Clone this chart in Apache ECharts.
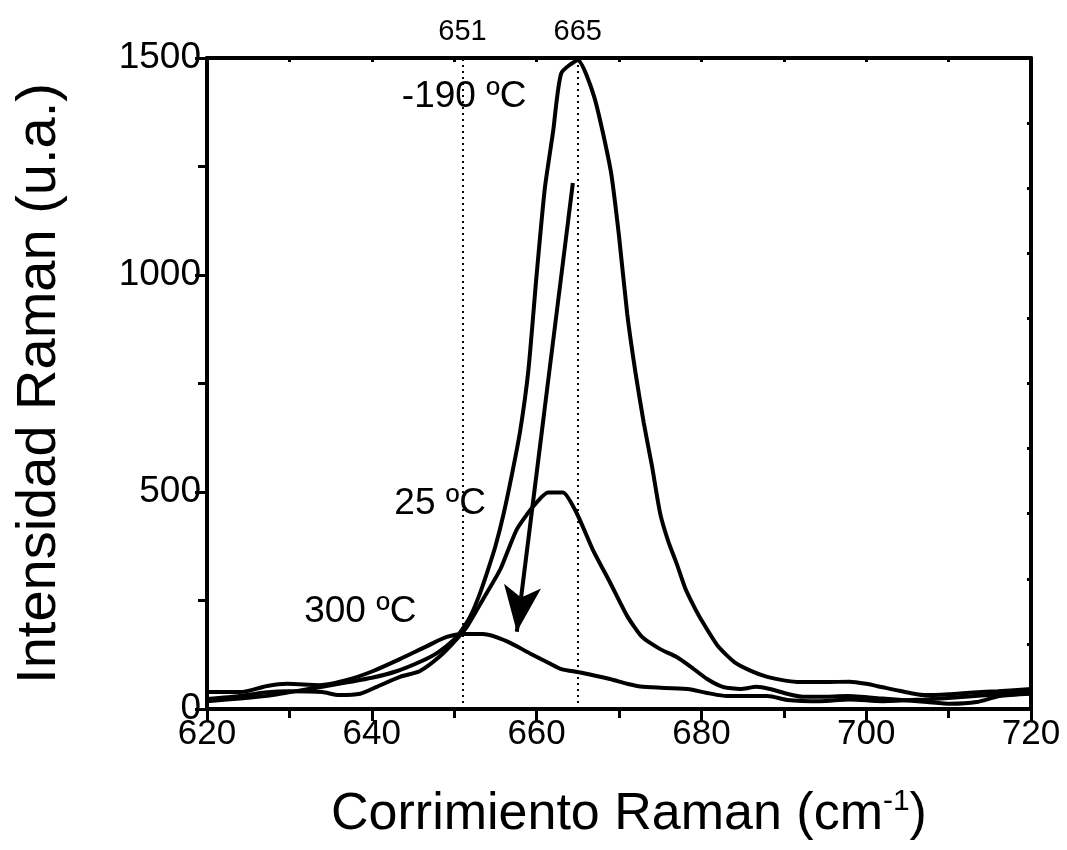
<!DOCTYPE html>
<html>
<head>
<meta charset="utf-8">
<script src="https://cdn.jsdelivr.net/npm/echarts@6/dist/echarts.min.js"></script>
<style>
html,body{margin:0;padding:0;background:#fff;}
#chart{width:1067px;height:850px;}
</style>
</head>
<body>
<div id="chart"></div>
<script>
// Raman shift (cm-1) and intensity (a.u.)
const xMinus190 = [620,624,628,632,636,640,643,646,648,650,651,652,653,654,655,656,657,658,659,660,661,662,663,665,667,669,670,671,672,673,674,675,676,677,678,679,680,682,684,686,688,690,692,695,698,700,702,704,707,710,713,716,720];
const yMinus190 = [18,24,32,45,58,72,87,110,130,160,184,215,260,315,375,450,540,640,780,1000,1200,1330,1465,1495,1410,1240,1090,910,775,660,560,450,385,335,280,240,205,145,108,88,74,66,62,62,63,58,50,42,32,34,38,41,46];

const x25 = [620,624,627,630,634,636,638.6,640.6,643.4,645.8,648.3,650.3,651.6,653.5,655.6,657.6,659.6,661.4,663.2,664.9,666.8,668.9,671,672.8,675,677,678.6,680.7,682.6,684.7,686.7,688.3,690.4,692.3,694.4,697.7,702,707.4,710.2,713.4,716.2,720];
const y25 = [23,30,38,41,39,32,35,51,74,87,122,161,191,253,322,414,467,499,499,450,368,292,214,166,138,120,99,69,51,46,51,46,35,28,28,30,24,16,12,16,30,35];

const x300 = [620,624,627.3,629.7,633.7,637,640.1,643.4,646.7,649.1,651.1,653.5,656.4,659.2,661.6,663,665.3,668.9,671,672.9,678.3,680.7,683.1,688,690.4,694.4,698,702,707,712,716,720];
const y300 = [39,39,53,58,55,67,87,115,145,166,173,173,156,128,105,92,84,69,58,51,46,37,30,30,21,18,22,18,22,28,34,40];

const peakLines = [651, 665];
const tempLabels = [
  {text: '-190 ºC', x: 651.2, y: 1410},
  {text: '25 ºC', x: 648.3, y: 472},
  {text: '300 ºC', x: 638.6, y: 225}
];
const arrowFrom = [664.4, 1212];
const arrowTo = [657.6, 178];

function pairs(xs, ys){ return xs.map((x,i)=>[x, ys[i]]); }

const FONT = 'Liberation Sans, Arial, sans-serif';
const chart = echarts.init(document.getElementById('chart'), null, {renderer:'canvas'});

const lineStyle = {color:'#000', width:4};

const option = {
  backgroundColor:'#fff',
  animation:false,
  grid:{left:207, right:36, top:58, bottom:140, containLabel:false},
  xAxis:[
    {
      type:'value', min:620, max:720, interval:20, position:'bottom',
      name:'Corrimiento Raman (cm{sup|-1})', nameLocation:'middle', nameGap:76,
      nameTextStyle:{fontFamily:FONT, fontSize:52, color:'#000', lineHeight:60, padding:[0,0,0,20],
        rich:{sup:{fontFamily:FONT, fontSize:30, color:'#000', padding:[0,0,26,0]}}},
      axisLine:{show:true, onZero:false, lineStyle:{color:'#000', width:4}},
      axisTick:{show:true, inside:false, length:12, lineStyle:{color:'#000', width:3}},
      minorTick:{show:true, splitNumber:2, length:9, lineStyle:{color:'#000', width:3}},
      axisLabel:{fontFamily:FONT, fontSize:35, color:'#000', margin:8},
      splitLine:{show:false}
    },
    {
      type:'value', min:620, max:720, interval:10, position:'top',
      axisLine:{show:true, onZero:false, lineStyle:{color:'#000', width:4}},
      axisTick:{show:true, inside:true, length:4, lineStyle:{color:'#000', width:3}},
      axisLabel:{show:false}, splitLine:{show:false}
    }
  ],
  yAxis:[
    {
      type:'value', min:0, max:1500, interval:500, position:'left',
      name:'Intensidad Raman (u.a.)', nameLocation:'middle', nameGap:139, nameRotate:90,
      nameTextStyle:{fontFamily:FONT, fontSize:56, color:'#000'},
      axisLine:{show:true, onZero:false, lineStyle:{color:'#000', width:4}},
      axisTick:{show:true, inside:false, length:12, lineStyle:{color:'#000', width:3}},
      minorTick:{show:true, splitNumber:2, length:9, lineStyle:{color:'#000', width:3}},
      axisLabel:{fontFamily:FONT, fontSize:37, color:'#000', margin:6, formatter:(v)=>String(v)},
      splitLine:{show:false}
    },
    {
      type:'value', min:0, max:1500, interval:150, position:'right',
      axisLine:{show:true, onZero:false, lineStyle:{color:'#000', width:4}},
      axisTick:{show:true, inside:true, length:4, lineStyle:{color:'#000', width:3}},
      axisLabel:{show:false}, splitLine:{show:false}
    }
  ],
  series:[
    {
      name:'-190 ºC', type:'line', xAxisIndex:0, yAxisIndex:0,
      data:pairs(xMinus190, yMinus190), showSymbol:false, smooth:0.2,
      lineStyle:lineStyle, itemStyle:{color:'#000'},
      markLine:{
        silent:true, symbol:['none','none'],
        lineStyle:{type:[2,4], color:'#000', width:2},
        label:{show:true, position:'end', formatter:'{c}', fontFamily:FONT, fontSize:29, color:'#000', distance:12},
        data:peakLines.map(v=>({xAxis:v}))
      },
      markPoint:{
        symbol:'circle', symbolSize:0, silent:true,
        label:{show:true, position:'inside', formatter:'{b}', fontFamily:FONT, fontSize:37, color:'#000'},
        data:tempLabels.map(t=>({name:t.text, coord:[t.x, t.y]}))
      }
    },
    {
      name:'25 ºC', type:'line', xAxisIndex:0, yAxisIndex:0,
      data:pairs(x25, y25), showSymbol:false, smooth:0.2,
      lineStyle:lineStyle, itemStyle:{color:'#000'}
    },
    {
      name:'300 ºC', type:'line', xAxisIndex:0, yAxisIndex:0,
      data:pairs(x300, y300), showSymbol:false, smooth:0.3,
      lineStyle:lineStyle, itemStyle:{color:'#000'},
      markLine:{
        silent:true, symbol:['none','arrow'], symbolSize:[28,46],
        lineStyle:{type:'solid', color:'#000', width:4},
        label:{show:false},
        data:[[{coord:arrowFrom}, {coord:arrowTo}]]
      }
    }
  ]
};
chart.setOption(option);
</script>
</body>
</html>
